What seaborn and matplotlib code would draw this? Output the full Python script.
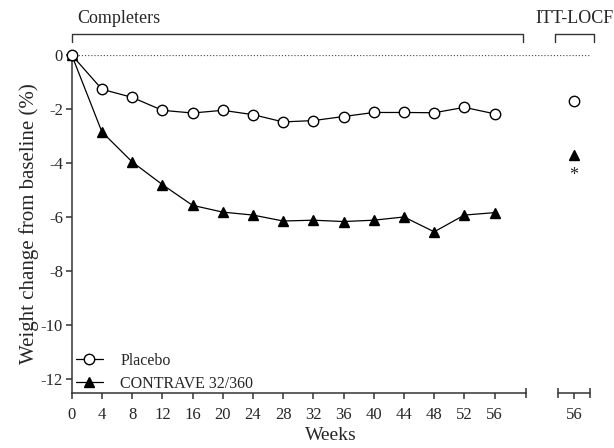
import numpy as np
import pandas as pd
import matplotlib
matplotlib.use("Agg")
import matplotlib.pyplot as plt
import seaborn as sns

weeks = [0, 4, 8, 12, 16, 20, 24, 28, 32, 36, 40, 44, 48, 52, 56]
placebo = [0, -1.27, -1.57, -2.05, -2.15, -2.05, -2.21, -2.48, -2.43, -2.28, -2.13, -2.13, -2.14, -1.94, -2.18]
contrave = [0, -2.85, -3.96, -4.80, -5.57, -5.82, -5.93, -6.15, -6.12, -6.17, -6.12, -6.00, -6.55, -5.93, -5.84]
itt_week_label = "56"
itt_placebo = -1.70
itt_contrave = -3.72
series_names = ["Placebo", "CONTRAVE 32/360"]
yticks = [0, -2, -4, -6, -8, -10, -12]

# positions for the broken x-axis layout
itt_x = 66.5
main_end = 60.2
seg2 = (64.4, 68.7)
ymin = -12.52

sns.set_style("ticks")
plt.rcParams["font.family"] = ["Liberation Serif", "DejaVu Serif"]

fig = plt.figure(figsize=(6.14, 4.48), dpi=100)
ax = fig.add_axes([0.1168, 0.1228, 0.8449, 0.7545])

df_p = pd.DataFrame({"week": weeks, "value": placebo})
df_c = pd.DataFrame({"week": weeks, "value": contrave})

ax.axhline(0, color="0.35", ls=(0, (1, 1.5)), lw=0.9, zorder=1)

lw = 0.9
sns.lineplot(data=df_p, x="week", y="value", ax=ax, color="black", lw=lw,
             marker="o", markersize=7.5, markerfacecolor="white",
             markeredgecolor="black", markeredgewidth=1.0,
             label=series_names[0], clip_on=False, zorder=4)
sns.lineplot(data=df_c, x="week", y="value", ax=ax, color="black", lw=lw,
             marker="^", markersize=7.5, markerfacecolor="black",
             markeredgecolor="black", markeredgewidth=1.0,
             label=series_names[1], clip_on=False, zorder=3)

ax.plot([itt_x], [itt_placebo], marker="o", ms=7.5, mfc="white", mec="black",
        mew=1.0, ls="none", zorder=4)
ax.plot([itt_x], [itt_contrave], marker="^", ms=7.5, mfc="black", mec="black",
        mew=1.0, ls="none", zorder=4)
ax.text(itt_x, itt_contrave - 0.74, "*", ha="center", va="center", fontsize=13)

ax.set_xlim(0, seg2[1])
ax.set_ylim(ymin, 0)

spine_c = "0.2"
spine_w = 1.1
for s in ["top", "right"]:
    ax.spines[s].set_visible(False)
ax.spines["left"].set_bounds(ymin, 0)
ax.spines["bottom"].set_bounds(0, main_end)
for s in ["left", "bottom"]:
    ax.spines[s].set_color(spine_c)
    ax.spines[s].set_linewidth(spine_w)

# second x-axis segment (ITT-LOCF)
ax.plot(list(seg2), [ymin, ymin], color=spine_c, lw=spine_w, clip_on=False, zorder=5)
ax.plot([main_end, seg2[0], seg2[1]], [ymin] * 3, ls="none", marker="|",
        ms=6.5, mew=spine_w, color=spine_c, clip_on=False, zorder=5)

ax.set_xticks(weeks + [itt_x])
ax.set_xticklabels([str(w) for w in weeks] + [itt_week_label], fontsize=12)
ax.set_yticks(yticks)
ax.set_yticklabels([str(v) for v in yticks], fontsize=12)
ax.tick_params(axis="both", direction="out", length=4.3, width=spine_w, color=spine_c)
ax.tick_params(axis="x", pad=5.5)
ax.tick_params(axis="y", pad=2)

ax.set_xlabel("Weeks", fontsize=14, labelpad=3)
ax.set_ylabel("Weight change from baseline (%)", fontsize=15, labelpad=1)

# brackets at the top
by, bt = 0.79, 0.49
ax.plot([0, 0, 59.7, 59.7], [bt, by, by, bt], color=spine_c, lw=1.0, clip_on=False)
ax.plot([64.0, 64.0, 69.2, 69.2], [bt, by, by, bt], color=spine_c, lw=1.0, clip_on=False)
ax.text(0.7, 1.17, "Completers", ha="left", va="baseline", fontsize=13)
ax.text(61.4, 1.17, "ITT-LOCF", ha="left", va="baseline", fontsize=13, clip_on=False)

leg = ax.legend(loc="lower left", bbox_to_anchor=(-0.014, -0.03), frameon=False,
                fontsize=11.5, handlelength=1.7, handletextpad=1.1, labelspacing=0.45,
                borderaxespad=0.3)

fig.savefig("out.png", dpi=100)
